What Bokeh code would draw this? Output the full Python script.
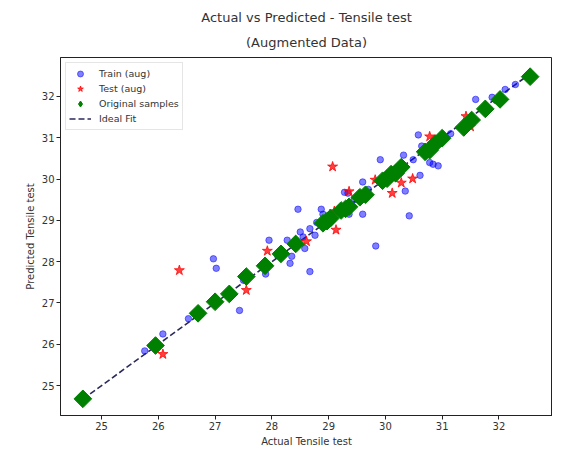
import numpy as np
from bokeh.plotting import figure
from bokeh.models import Range1d, Legend, LegendItem, FixedTicker, Title
from bokeh.embed import file_html
from bokeh.resources import INLINE

# ---- data ----
orig_actual = [24.67, 25.95, 26.70, 27.00, 27.25, 27.55, 27.88, 28.16, 28.42, 28.90, 28.97, 29.03,
               29.22, 29.30, 29.36, 29.55, 29.65, 29.95, 30.03, 30.10, 30.18, 30.28, 30.70, 30.78,
               30.88, 31.00, 31.38, 31.52, 31.76, 32.02, 32.55]
orig_pred = [24.68, 25.97, 26.75, 27.03, 27.22, 27.64, 27.90, 28.19, 28.43, 28.93, 28.98, 29.05,
             29.24, 29.28, 29.33, 29.56, 29.62, 29.96, 30.01, 30.12, 30.14, 30.29, 30.66, 30.70,
             30.86, 30.99, 31.25, 31.43, 31.70, 31.93, 32.48]

train_actual = [25.76, 26.08, 26.53, 27.43, 26.97, 27.02, 27.95, 28.27, 28.46, 28.50, 28.35, 28.32,
                27.89, 28.67, 28.67, 28.76, 28.58, 28.87, 28.90, 28.79, 29.36, 29.34, 29.60, 29.83,
                30.42, 29.60, 29.91, 30.32, 30.35, 30.61, 30.84, 30.93, 29.28, 30.49, 30.58, 30.64,
                30.78, 31.59, 31.88, 32.11, 32.29, 26.75, 28.10, 29.05, 29.70, 31.15, 31.95, 27.50,
                29.20, 30.15, 28.55, 29.45]
train_pred = [25.84, 26.25, 26.62, 26.82, 28.07, 27.84, 28.52, 28.52, 29.27, 28.72, 28.13, 27.96,
              27.70, 27.76, 28.80, 28.64, 28.32, 29.27, 29.15, 28.95, 29.15, 29.66, 29.15, 28.38,
              29.11, 29.93, 30.47, 30.58, 29.71, 30.09, 30.36, 30.32, 29.68, 30.47, 31.07, 30.80,
              30.40, 31.93, 31.98, 32.17, 32.29, 26.73, 28.15, 29.00, 29.75, 31.10, 31.90, 27.55,
              29.25, 30.20, 28.60, 29.50]

test_actual = [26.08, 26.37, 27.55, 27.92, 28.61, 29.10, 29.13, 29.36, 29.07, 29.82, 30.12, 30.28,
               30.48, 31.42, 31.50, 30.78]
test_pred = [25.76, 27.79, 27.31, 28.26, 28.49, 29.22, 28.77, 29.70, 30.30, 29.98, 29.66, 29.91,
             30.01, 31.52, 31.27, 31.03]

ticks = [25, 26, 27, 28, 29, 30, 31, 32]
title_lines = ["Actual vs Predicted - Tensile test", "(Augmented Data)"]

lo = min(orig_actual)
hi = max(orig_actual)
pad = 0.05 * (hi - lo)

FONT = "DejaVu Sans"
TXT = "#333333"

p = figure(width=552, height=449, output_backend="svg", toolbar_location=None,
           x_range=Range1d(lo - pad, hi + pad), y_range=Range1d(lo - pad, hi + pad),
           min_border_left=60, min_border_right=0, min_border_top=0, min_border_bottom=4,
           title=None)

# two centred title lines (later-added title sits higher)
p.add_layout(Title(text=title_lines[1], align="center", text_font=FONT, text_font_size="13px",
                   text_font_style="normal", text_color=TXT, standoff=16), "above")
p.add_layout(Title(text=title_lines[0], align="center", text_font=FONT, text_font_size="13px",
                   text_font_style="normal", text_color=TXT, standoff=0), "above")
# small spacer above the title block
p.add_layout(Title(text=" ", text_font=FONT, text_font_size="4px", standoff=0), "above")

p.xgrid.visible = False
p.ygrid.visible = False
p.outline_line_color = "#222222"
p.outline_line_width = 1
p.background_fill_color = "white"
p.border_fill_color = "white"

for ax in (p.xaxis, p.yaxis):
    ax.ticker = FixedTicker(ticks=ticks)
    ax.minor_tick_line_color = None
    ax.major_tick_in = 0
    ax.major_tick_out = 4
    ax.major_label_standoff = 2
    ax.axis_label_standoff = 3
    ax.major_label_text_font = FONT
    ax.major_label_text_font_size = "10px"
    ax.major_label_text_color = TXT
    ax.axis_label_text_font = FONT
    ax.axis_label_text_font_size = "10px"
    ax.axis_label_text_font_style = "normal"
    ax.axis_label_text_color = TXT
    ax.axis_line_color = "#222222"
    ax.major_tick_line_color = "#222222"

p.xaxis.axis_label = "Actual Tensile test"
p.yaxis.axis_label = "Predicted Tensile test"

r_line = p.line([lo, hi], [lo, hi], line_color="#2a2a5c", line_width=1.6, line_dash="6 3")
r_train = p.scatter(train_actual, train_pred, marker="circle", size=6.5,
                    fill_color="blue", line_color="blue", fill_alpha=0.5, line_alpha=0.5)
r_test = p.scatter(test_actual, test_pred, marker="star", size=10.5,
                   fill_color="red", line_color="red", fill_alpha=0.75, line_alpha=0.75)
r_orig = p.scatter(orig_actual, orig_pred, marker="square", angle=np.pi / 4, size=12.5,
                   fill_color="green", line_color="green")
# legend proxy for the diamond marker (legend glyphs ignore rotation); NaN point draws nothing
r_orig_leg = p.scatter(x=[np.nan], y=[np.nan], marker="diamond", size=17,
                       fill_color="green", line_color="green")

legend = Legend(items=[
    LegendItem(label="Train (aug)", renderers=[r_train]),
    LegendItem(label="Test (aug)", renderers=[r_test]),
    LegendItem(label="Original samples", renderers=[r_orig_leg]),
    LegendItem(label="Ideal Fit", renderers=[r_line]),
], location="top_left")
legend.label_text_font = FONT
legend.label_text_font_size = "9.5px"
legend.label_text_color = TXT
legend.glyph_height = 15
legend.glyph_width = 22
legend.label_height = 15
legend.spacing = 0
legend.padding = 3
legend.margin = 5
legend.label_standoff = 8
legend.border_line_color = "#cccccc"
legend.background_fill_alpha = 0.8
p.add_layout(legend)

open("out.html", "w").write(file_html(p, INLINE))
